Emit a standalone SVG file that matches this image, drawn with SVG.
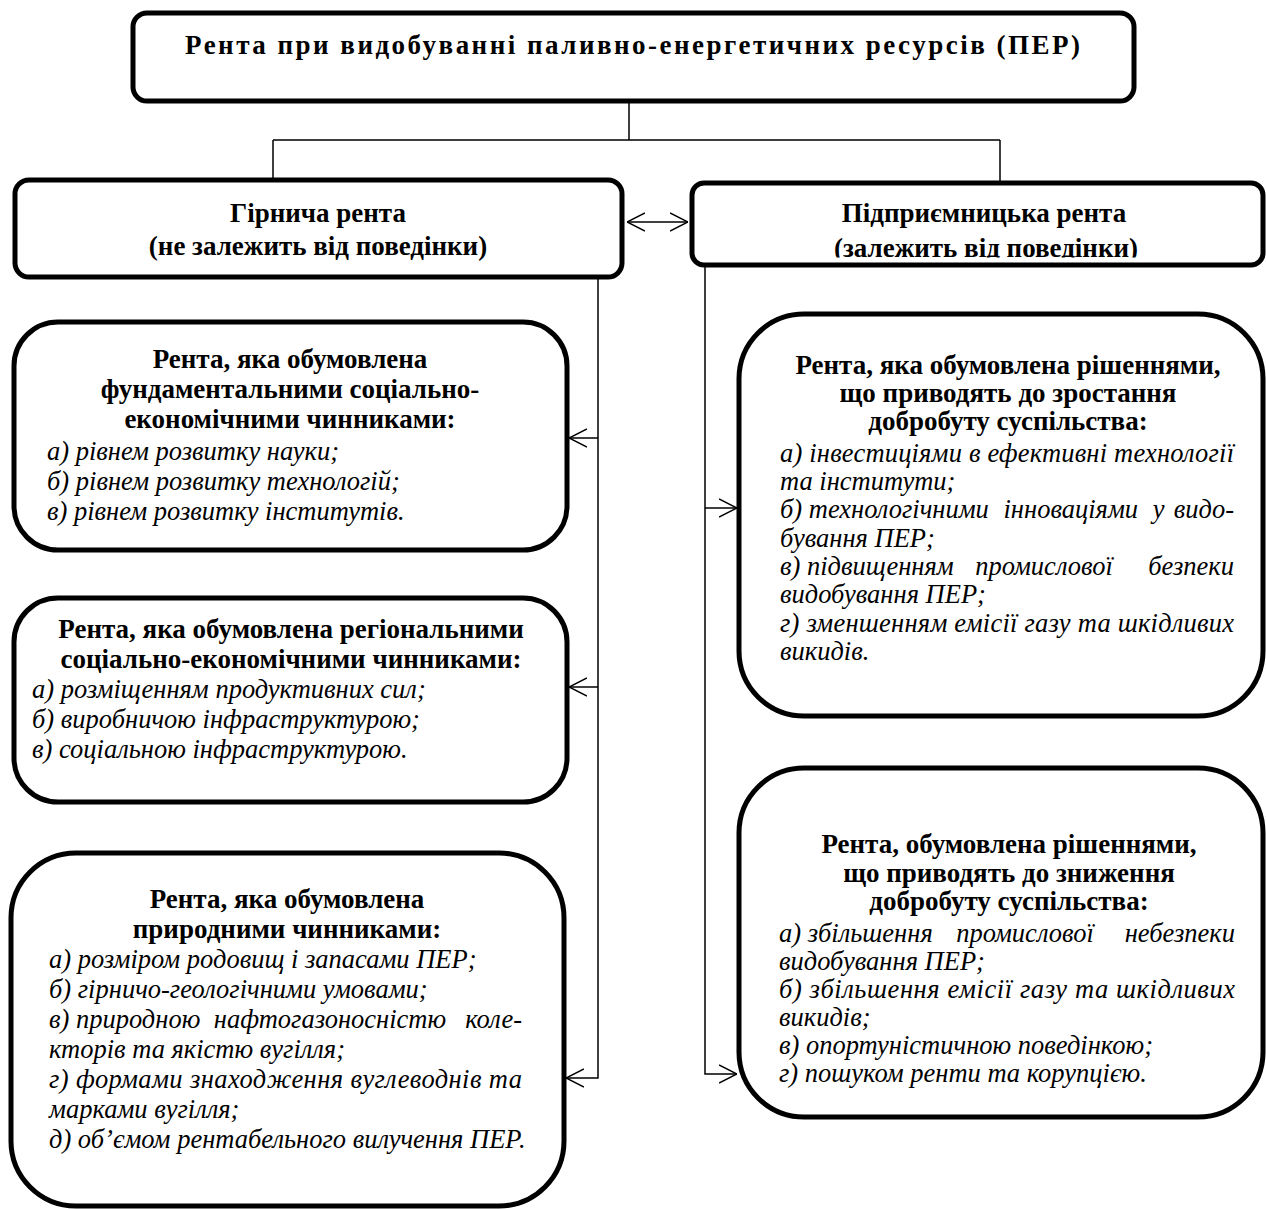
<svg xmlns="http://www.w3.org/2000/svg" width="1266" height="1209" viewBox="0 0 1266 1209">
<style>
.box{fill:#fff;stroke:#000;stroke-width:5}
.ln{fill:none;stroke:#000;stroke-width:1.5}
.b{font-family:"Liberation Serif","Times New Roman",serif;font-weight:bold;font-size:27px;text-anchor:middle;fill:#000}
.i{font-family:"Liberation Serif","Times New Roman",serif;font-style:italic;font-size:26.5px;fill:#000}
.e{text-anchor:end}
.m{text-anchor:middle}
</style>
<defs>
<marker id="ah" viewBox="0 0 18 20" refX="18" refY="10" markerWidth="18" markerHeight="20" markerUnits="userSpaceOnUse" orient="auto-start-reverse">
<path d="M0,1 L18,10 L0,19" fill="none" stroke="#000" stroke-width="1.5"/>
</marker>
<clipPath id="clipR"><rect x="690" y="180" width="576" height="77.5"/></clipPath>
</defs>
<rect width="1266" height="1209" fill="#fff"/>

<g id="connectors">
<path class="ln" d="M629,101 V140 M273,140 H1000 M273,140 V180 M1000,140 V183"/>
<path class="ln" d="M627,222 H688" marker-start="url(#ah)" marker-end="url(#ah)"/>
<path class="ln" d="M598,278 V1078 H566" marker-end="url(#ah)"/>
<path class="ln" d="M598,438 H569" marker-end="url(#ah)"/>
<path class="ln" d="M598,687 H569" marker-end="url(#ah)"/>
<path class="ln" d="M705,265 V1074 H737" marker-end="url(#ah)"/>
<path class="ln" d="M705,508 H737" marker-end="url(#ah)"/>
</g>

<g id="root">
<rect class="box" x="133" y="13" width="1001" height="88" rx="14"/>
<text class="b" x="185" y="54" style="text-anchor:start" textLength="895" lengthAdjust="spacing">Рента при видобуванні паливно-енергетичних ресурсів (ПЕР)</text>
</g>

<g id="mining">
<rect class="box" x="15" y="180" width="607" height="97" rx="14"/>
<text class="b" x="318" y="222">Гірнича рента</text>
<text class="b" x="318" y="255">(не залежить від поведінки)</text>
</g>

<g id="entrepreneur">
<rect class="box" x="692" y="183" width="571" height="82" rx="12"/>
<g clip-path="url(#clipR)">
<text class="b" x="984" y="222">Підприємницька рента</text>
<text class="b" x="986" y="257">(залежить від поведінки)</text>
</g>
</g>

<g id="fundamental">
<rect class="box" x="14" y="322" width="553" height="228" rx="44"/>
<text class="b" x="290" y="368">Рента, яка обумовлена</text>
<text class="b" x="290" y="398">фундаментальними соціально-</text>
<text class="b" x="290" y="428">економічними чинниками:</text>
<text class="i" x="47" y="460">а) рівнем розвитку науки;</text>
<text class="i" x="47" y="490">б) рівнем розвитку технологій;</text>
<text class="i" x="47" y="520">в) рівнем розвитку інститутів.</text>
</g>

<g id="regional">
<rect class="box" x="14" y="598" width="553" height="204" rx="44"/>
<text class="b" x="291" y="638">Рента, яка обумовлена регіональними</text>
<text class="b" x="291" y="668">соціально-економічними чинниками:</text>
<text class="i" x="32" y="698">а) розміщенням продуктивних сил;</text>
<text class="i" x="32" y="728">б) виробничою інфраструктурою;</text>
<text class="i" x="32" y="758">в) соціальною інфраструктурою.</text>
</g>

<g id="natural">
<rect class="box" x="11" y="853" width="553" height="353" rx="65"/>
<text class="b" x="287" y="908">Рента, яка обумовлена</text>
<text class="b" x="287" y="938">природними чинниками:</text>
<text class="i" x="49" y="968">а) розміром родовищ і запасами ПЕР;</text>
<text class="i" x="49" y="998">б) гірничо-геологічними умовами;</text>
<text class="i" x="49" y="1028">в) природною</text>
<text class="i m" x="330" y="1028">нафтогазоносністю</text>
<text class="i e" x="522" y="1028">коле-</text>
<text class="i" x="49" y="1058">кторів та якістю вугілля;</text>
<text class="i" x="49" y="1088" textLength="473" lengthAdjust="spacing">г) формами знаходження вуглеводнів та</text>
<text class="i" x="49" y="1118">марками вугілля;</text>
<text class="i" x="49" y="1148">д) об’ємом рентабельного вилучення ПЕР.</text>
</g>

<g id="growth">
<rect class="box" x="739" y="314" width="524" height="402" rx="65"/>
<text class="b" x="1008" y="374">Рента, яка обумовлена рішеннями,</text>
<text class="b" x="1008" y="402">що приводять до зростання</text>
<text class="b" x="1008" y="430">добробуту суспільства:</text>
<text class="i" x="780" y="462" textLength="454" lengthAdjust="spacing">а) інвестиціями в ефективні технології</text>
<text class="i" x="780" y="490">та інститути;</text>
<text class="i" x="780" y="518">б) технологічними<tspan dx="8"> інноваціями</tspan><tspan dx="8"> у</tspan></text>
<text class="i e" x="1234" y="518">видо-</text>
<text class="i" x="780" y="547">бування ПЕР;</text>
<text class="i" x="780" y="575">в) підвищенням</text>
<text class="i m" x="1044" y="575">промислової</text>
<text class="i e" x="1234" y="575">безпеки</text>
<text class="i" x="780" y="603">видобування ПЕР;</text>
<text class="i" x="780" y="632" textLength="454" lengthAdjust="spacing">г) зменшенням емісії газу та шкідливих</text>
<text class="i" x="780" y="660">викидів.</text>
</g>

<g id="decline">
<rect class="box" x="739" y="768" width="524" height="349" rx="65"/>
<text class="b" x="1009" y="853">Рента, обумовлена рішеннями,</text>
<text class="b" x="1009" y="882">що приводять до зниження</text>
<text class="b" x="1009" y="910">добробуту суспільства:</text>
<text class="i" x="779" y="942">а) збільшення</text>
<text class="i m" x="1025" y="942">промислової</text>
<text class="i e" x="1235" y="942">небезпеки</text>
<text class="i" x="779" y="970">видобування ПЕР;</text>
<text class="i" x="779" y="998" textLength="456" lengthAdjust="spacing">б) збільшення емісії газу та шкідливих</text>
<text class="i" x="779" y="1026">викидів;</text>
<text class="i" x="779" y="1054">в) опортуністичною поведінкою;</text>
<text class="i" x="779" y="1082">г) пошуком ренти та корупцією.</text>
</g>
</svg>
